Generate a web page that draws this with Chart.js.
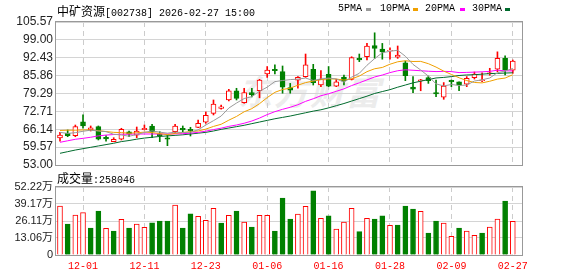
<!DOCTYPE html>
<html>
<head>
<meta charset="utf-8">
<script src="https://cdn.jsdelivr.net/npm/chart.js@4.4.1/dist/chart.umd.min.js"></script>
<style>
body { margin: 0; background: #fff; width: 578px; height: 276px; position: relative; overflow: hidden; }
canvas { position: absolute; left: 0; }
#price { top: 0; }
#vol { top: 176px; }
.txt { position: absolute; font: 10px "Liberation Mono", monospace; color: #000; white-space: nowrap; line-height: 14px; z-index: 2; }
.cjk { font: 12px "Noto Sans CJK SC"; }
.sw { position: absolute; width: 5px; height: 3px; z-index: 2; }
#wm { position: absolute; left: 238px; top: 66px; font: bold italic 34px "Noto Sans CJK SC"; color: #ececec; letter-spacing: 2px; z-index: 0; }
</style>
</head>
<body>
<div id="wm">东方财富</div>
<div class="txt" style="left:57px;top:2px"><span class="cjk">中矿资源</span>[002738] 2026-02-27 15:00</div>
<div class="txt" style="left:338px;top:2px">5PMA</div>
<div class="sw" style="left:366px;top:8px;background:#9a9a9a"></div>
<div class="txt" style="left:380px;top:2px">10PMA</div>
<div class="sw" style="left:413px;top:8px;background:#f0a000"></div>
<div class="txt" style="left:425px;top:2px">20PMA</div>
<div class="sw" style="left:460px;top:8px;background:#ff00ff"></div>
<div class="txt" style="left:472px;top:2px">30PMA</div>
<div class="sw" style="left:505px;top:8px;background:#006b2d"></div>
<div class="txt" style="left:57px;top:169px"><span class="cjk">成交量</span>:258046</div>
<canvas id="price" width="578" height="176"></canvas>
<canvas id="vol" width="578" height="100"></canvas>
<script>
const dates = ['11-26','11-27','11-28','12-01','12-02','12-03','12-04','12-05','12-08','12-09',
  '12-10','12-11','12-12','12-15','12-16','12-17','12-18','12-19','12-22','12-23',
  '12-24','12-25','12-26','12-29','12-30','12-31','01-05','01-06','01-07','01-08',
  '01-09','01-12','01-13','01-14','01-15','01-16','01-19','01-20','01-21','01-22',
  '01-23','01-26','01-27','01-28','01-29','01-30','02-02','02-03','02-04','02-05',
  '02-06','02-09','02-10','02-11','02-12','02-13','02-24','02-25','02-26','02-27'];
const tickDates = ['12-01','12-11','12-23','01-06','01-16','01-28','02-09','02-27'];

const open = [63.0,64.65,63.8,68.9,65.9,67.1,63.2,61.6,62.5,65.2,
  64.0,66.0,67.35,64.4,63.0,65.24,66.5,66.1,66.86,68.7,
  72.0,73.8,76.9,80.3,75.9,79.6,80.3,86.45,88.2,87.3,
  81.5,84.2,85.5,88.2,82.4,86.35,82.0,85.2,84.5,92.2,
  92.8,96.9,95.6,94.9,92.6,90.6,81.6,84.0,85.1,79.6,
  77.9,84.1,83.6,82.7,85.1,84.0,86.5,88.2,92.2,87.9];
const close = [64.0,63.8,67.1,67.4,66.7,62.5,62.6,62.4,66.1,64.3,
  65.5,66.5,65.24,63.8,62.45,67.35,65.9,65.6,68.33,71.27,
  75.4,74.4,80.3,77.5,79.6,78.85,84.25,87.9,87.7,81.6,
  80.5,85.2,89.8,83.3,84.5,82.0,83.6,83.9,92.45,91.6,
  96.75,95.9,94.6,95.2,93.4,85.8,80.9,84.3,84.0,79.1,
  82.0,83.6,82.4,84.85,86.45,84.3,86.9,92.2,87.9,91.2];
const high = [65.0,65.87,67.7,71.4,67.35,67.35,63.77,63.04,66.5,65.5,
  66.97,67.7,67.96,65.24,64.03,67.96,67.35,66.86,69.55,72.5,
  76.9,75.0,80.8,81.2,81.2,81.2,84.5,89.2,89.8,89.4,
  83.0,85.5,93.8,90.0,87.7,89.2,84.5,86.1,92.8,93.8,
  97.7,101.6,97.7,96.1,96.75,91.2,85.5,84.5,85.7,84.25,
  83.3,84.25,83.6,85.5,87.2,86.9,88.55,94.6,93.1,91.6];
const low = [61.8,63.4,63.4,66.5,65.5,62.2,61.8,61.57,62.2,63.4,
  63.04,65.9,63.04,61.57,60.1,64.88,65.24,63.66,66.7,68.33,
  71.4,73.5,76.6,76.9,75.7,78.0,77.7,85.2,86.45,79.4,
  79.4,81.2,85.2,82.4,81.8,81.8,81.8,82.4,84.25,91.0,
  91.6,92.2,91.9,91.9,92.2,84.0,79.6,80.3,83.0,78.1,
  77.15,81.8,80.3,81.8,84.6,83.6,86.0,87.3,86.1,86.7];

// volume in 万 shares
const volume = [37.6,23.8,30.7,32.5,20.7,33.8,20.5,18.4,27.4,20.7,
  23.8,21.3,24.8,26.1,26.1,38.4,20.7,31.6,29.7,26.6,
  35.8,24.6,30.5,33.8,25.3,21.5,30.5,30.5,18.4,43.8,
  27.6,31.5,37.4,49.2,28.2,30.0,20.0,25.3,35.8,17.9,
  28.2,27.6,30.0,22.8,23.0,37.6,35.3,33.5,16.9,26.1,
  24.6,14.4,20.7,18.4,15.1,16.9,21.5,27.6,41.5,25.8];

const ma5 = [65.0,64.6,64.9,65.4,65.8,65.5,65.26,64.3,64.04,63.58,
  64.18,64.96,65.53,65.07,64.7,65.07,64.95,65.02,65.93,67.69,
  69.3,71.0,73.94,75.77,77.44,78.13,80.1,81.62,83.66,84.06,
  84.39,84.58,84.96,84.08,84.66,84.96,84.64,83.46,85.29,86.71,
  89.66,92.12,94.26,94.81,95.17,92.98,89.98,87.92,85.68,82.82,
  82.06,82.6,82.22,82.39,83.86,84.32,84.98,86.94,87.55,88.5];
const ma10 = [65.7,65.8,65.8,65.9,65.9,65.6,65.3,65.0,64.9,64.69,
  64.84,65.1,64.92,64.56,64.13,64.62,64.96,65.27,65.5,66.19,
  67.18,67.97,69.48,70.85,72.57,73.72,75.55,77.78,79.72,80.75,
  81.26,82.34,83.29,83.87,84.36,84.68,84.61,84.21,84.69,85.69,
  87.31,88.38,88.86,90.05,90.94,91.32,91.05,91.09,90.25,89.0,
  87.52,86.29,85.07,84.04,83.34,83.19,83.79,84.58,84.97,86.18];
const ma20 = [61.35,61.9,62.45,62.8,63.2,63.7,64.0,64.2,64.3,64.35,
  64.4,64.4,64.4,64.4,64.4,64.45,64.5,64.7,65.0,65.44,
  66.01,66.54,67.2,67.7,68.35,69.17,70.25,71.53,72.61,73.47,
  74.22,75.16,76.39,77.36,78.46,79.2,80.08,81.0,82.2,83.22,
  84.29,85.36,86.08,86.96,87.65,88.0,87.83,87.65,87.47,87.34,
  87.42,87.34,86.97,87.04,87.14,87.26,87.42,87.84,87.61,87.59];
const ma30 = [57.3,57.9,58.5,59.0,59.5,60.0,60.5,61.0,61.6,62.0,
  62.5,62.9,63.2,63.5,63.7,63.9,64.1,64.4,64.7,65.0,
  65.5,66.1,66.6,67.1,67.6,68.2,68.8,69.4,70.0,70.5,
  71.0,71.6,72.2,72.8,73.3,74.0,74.8,75.6,76.5,77.4,
  78.3,79.3,80.0,80.7,81.6,82.4,83.2,83.8,84.4,85.0,
  85.2,85.5,85.9,86.1,86.2,86.4,86.6,86.7,86.8,86.9];

const priceTicks = [53.00, 59.57, 66.14, 72.71, 79.29, 85.86, 92.43, 99.00, 105.57];
const volTicks = [0, 13.06, 26.11, 39.17, 52.22];
const volTickLabels = ['0', '13.06万', '26.11万', '39.17万', '52.22万'];

const maSeries = [ma5, ma10, ma20, ma30];
const maColors = ['#9a9a9a', '#f0a000', '#ff00ff', '#006b2d'];

const RED = '#ff0000';
const GREEN = '#008000';

const tickIdx = tickDates.map(d => dates.indexOf(d));
const candleUp = i => close[i] >= open[i];
const volUp = i => i === 0 ? candleUp(0) : close[i] >= close[i - 1];

// draw a grey frame round the plot area
const frame = {
    id: 'frame',
    afterDatasetsDraw(chart) {
        const { ctx, chartArea: a } = chart;
        ctx.save();
        ctx.strokeStyle = '#999';
        ctx.lineWidth = 1;
        ctx.strokeRect(a.left - 0.5, a.top - 0.5, a.right - a.left + 1, a.bottom - a.top + 1);
        ctx.restore();
    }
};

const xBase = {
    type: 'linear',
    min: -0.52,
    max: 60.2,
    offset: false,
    grid: { color: '#cccccc', drawTicks: false, offset: false },
    border: { display: false, dash: [5, 4] },
    afterBuildTicks: s => { s.ticks = tickIdx.map(v => ({ value: v })); }
};

// Price chart with candles and moving averages
const priceChart = new Chart(document.getElementById('price'), {
    type: 'bar',
    data: {
        datasets: [
            ...maSeries.map((ma, k) => ({
                type: 'line',
                data: ma.map((v, i) => ({ x: i, y: v })),
                borderColor: maColors[k],
                borderWidth: 1,
                pointRadius: 0,
                tension: 0,
                order: 0
            })),
            {
                data: close.map((c, i) => ({ x: i, y: [open[i], c] })),
                backgroundColor: ctx => candleUp(ctx.dataIndex) ? '#ffffff' : GREEN,
                borderColor: ctx => candleUp(ctx.dataIndex) ? RED : GREEN,
                borderWidth: 1,
                borderSkipped: false,
                barThickness: 5,
                grouped: false,
                order: 1
            },
            {
                data: high.map((h, i) => ({ x: i, y: [low[i], h] })),
                backgroundColor: ctx => candleUp(ctx.dataIndex) ? RED : GREEN,
                borderWidth: 0,
                barThickness: 1,
                grouped: false,
                order: 2
            }
        ]
    },
    options: {
        responsive: false,
        animation: false,
        layout: { padding: { left: 0, right: 56, top: 22, bottom: 11 } },
        plugins: { legend: { display: false }, tooltip: { enabled: false } },
        scales: {
            x: {
                ...xBase,
                ticks: { display: false },
                afterFit: s => { s.height = 0; }
            },
            y: {
                min: 53,
                max: 105.57,
                afterBuildTicks: s => { s.ticks = priceTicks.map(v => ({ value: v })); },
                ticks: {
                    callback: v => v.toFixed(2),
                    color: '#222',
                    padding: 3,
                    font: { family: '"Liberation Sans", Arial', size: 12 }
                },
                grid: { color: '#d4d4d4', drawTicks: false },
                border: { display: false },
                afterFit: s => { s.width = 56; }
            }
        }
    },
    plugins: [frame]
});

// Volume chart
const volChart = new Chart(document.getElementById('vol'), {
    type: 'bar',
    data: {
        datasets: [{
            data: volume.map((v, i) => ({ x: i, y: v })),
            backgroundColor: ctx => volUp(ctx.dataIndex) ? '#ffffff' : GREEN,
            borderColor: ctx => volUp(ctx.dataIndex) ? RED : GREEN,
            borderWidth: 1,
            barThickness: 5
        }]
    },
    options: {
        responsive: false,
        animation: false,
        layout: { padding: { left: 0, right: 56, top: 11, bottom: 0 } },
        plugins: { legend: { display: false }, tooltip: { enabled: false } },
        scales: {
            x: {
                ...xBase,
                ticks: {
                    autoSkip: false,
                    maxRotation: 0,
                    padding: 5,
                    color: RED,
                    font: { family: '"Liberation Mono", monospace', size: 10 },
                    callback: v => dates[v]
                },
                afterFit: s => { s.height = 21; }
            },
            y: {
                min: 0,
                max: 52.22,
                afterBuildTicks: s => { s.ticks = volTicks.map(v => ({ value: v })); },
                ticks: {
                    callback: v => volTickLabels[volTicks.indexOf(v)],
                    color: '#222',
                    padding: 3,
                    font: { family: '"Liberation Sans", "Noto Sans CJK SC"', size: 11 }
                },
                grid: { color: '#d4d4d4', drawTicks: false },
                border: { display: false },
                afterFit: s => { s.width = 56; }
            }
        }
    },
    plugins: [frame]
});
</script>
</body>
</html>
